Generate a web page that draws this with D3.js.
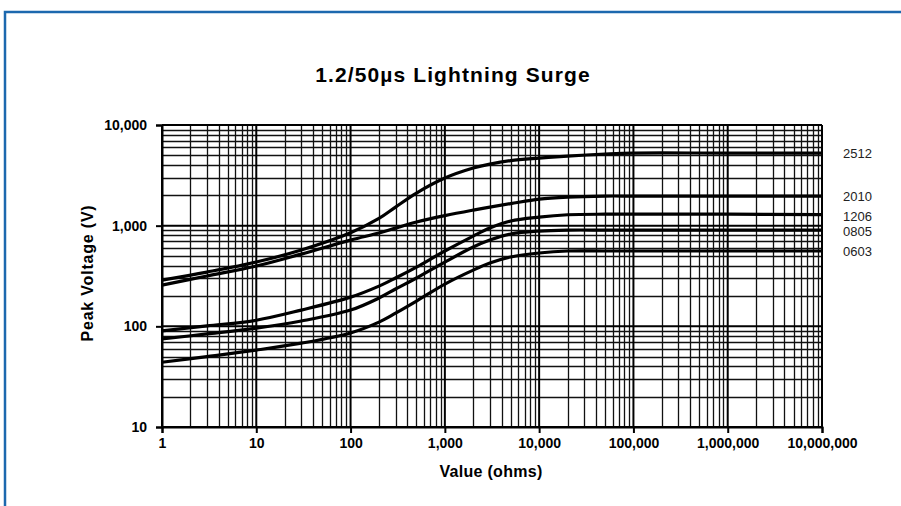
<!DOCTYPE html>
<html>
<head>
<meta charset="utf-8">
<script src="https://d3js.org/d3.v7.min.js"></script>
<style>
body { margin: 0; background: #fff; }
svg { display: block; }
.tick-label { font-family: "Liberation Sans", Arial, sans-serif; font-weight: bold; font-size: 14px; fill: #000; }
.series-label { font-family: "Liberation Sans", Arial, sans-serif; font-size: 13px; fill: #222; }
</style>
</head>
<body>
<svg width="901" height="506"></svg>
<script>
// resistance values (ohms) sampled along the curves
const resistance = [1, 3, 10, 30, 100, 200, 300, 500, 1000, 2000, 3000, 5000, 10000, 20000, 50000, 100000, 1000000, 10000000]

// peak voltage per chip size
const v2512 = [288, 346, 435, 573, 850, 1180, 1530, 2108, 2970, 3733, 4092, 4435, 4690, 4910, 5140, 5260, 5260, 5260]
const v2010 = [257, 316, 397, 522, 719, 845, 946, 1086, 1259, 1429, 1530, 1657, 1838, 1925, 1968, 1968, 1968, 1968]
const v1206 = [90, 101, 115, 145, 195, 251, 302, 388, 560, 788, 946, 1112, 1217, 1283, 1300, 1300, 1300, 1290]
const v0805 = [75, 84, 96, 113, 145, 191, 235, 302, 435, 613, 719, 826, 884, 904, 904, 904, 904, 904]
const v0603 = [44, 50, 58, 68, 86, 110, 135, 178, 263, 362, 425, 488, 535, 560, 560, 560, 560, 560]

const seriesNames = ["2512", "2010", "1206", "0805", "0603"]
const seriesValues = [v2512, v2010, v1206, v0805, v0603]

const xTicks = [1, 10, 100, 1000, 10000, 100000, 1000000, 10000000]
const yTicks = [10, 100, 1000, 10000]

const title = "1.2/50µs Lightning Surge"
const xTitle = "Value (ohms)"
const yTitle = "Peak Voltage (V)"

const svg = d3.select("svg")

// frame
svg.append("rect")
    .attr("x", 5).attr("y", 12)
    .attr("width", 1000).attr("height", 1000)
    .attr("fill", "none")
    .attr("stroke", "#1c68ae")
    .attr("stroke-width", 2.5)

const plotL = 162, plotR = 822, plotT = 125, plotB = 427

const x = d3.scaleLog().domain([1, 1e7]).range([plotL, plotR])
const y = d3.scaleLog().domain([10, 10000]).range([plotB, plotT])

const fmt = d3.format(",")

// minor grid values 2..9 in every decade
function minorValues(lo, hi) {
    let out = []
    for (let d = lo; d < hi; d *= 10) {
        for (let k = 2; k <= 9; k++) out.push(d * k)
    }
    return out
}

const grid = svg.append("g")

grid.selectAll(".vminor")
    .data(minorValues(1, 1e7))
    .enter().append("line")
    .attr("x1", d => Math.round(x(d)) + 0.5).attr("x2", d => Math.round(x(d)) + 0.5)
    .attr("y1", plotT).attr("y2", plotB)
    .attr("stroke", "#111").attr("stroke-width", 1.3)

grid.selectAll(".hminor")
    .data(minorValues(10, 10000))
    .enter().append("line")
    .attr("y1", d => Math.round(y(d)) + 0.5).attr("y2", d => Math.round(y(d)) + 0.5)
    .attr("x1", plotL).attr("x2", plotR)
    .attr("stroke", "#111").attr("stroke-width", 1.3)

grid.selectAll(".vmajor")
    .data(xTicks)
    .enter().append("line")
    .attr("x1", d => x(d)).attr("x2", d => x(d))
    .attr("y1", plotT).attr("y2", plotB)
    .attr("stroke", "#000").attr("stroke-width", 2)

grid.selectAll(".hmajor")
    .data(yTicks)
    .enter().append("line")
    .attr("y1", d => y(d)).attr("y2", d => y(d))
    .attr("x1", plotL).attr("x2", plotR)
    .attr("stroke", "#000").attr("stroke-width", 2)

// axes
const xAxis = svg.append("g")
    .attr("transform", `translate(0,${plotB})`)
    .call(d3.axisBottom(x).tickValues(xTicks).tickFormat(fmt).tickSize(6).tickPadding(5))
const yAxis = svg.append("g")
    .attr("transform", `translate(${plotL},0)`)
    .call(d3.axisLeft(y).tickValues(yTicks).tickFormat(fmt).tickSize(6).tickPadding(9))

for (let ax of [xAxis, yAxis]) {
    ax.select(".domain").attr("stroke", "#000").attr("stroke-width", 2)
    ax.selectAll(".tick line").attr("stroke", "#000").attr("stroke-width", 2)
    ax.selectAll("text").attr("class", "tick-label")
    ax.attr("font-family", null).attr("font-size", null)
}

// curves
const line = d3.line()
    .x((d, i) => x(resistance[i]))
    .y(d => y(d))
    .curve(d3.curveCatmullRom.alpha(0.5))

svg.selectAll(".curve")
    .data(seriesValues)
    .enter().append("path")
    .attr("d", line)
    .attr("fill", "none")
    .attr("stroke", "#000")
    .attr("stroke-width", 3.2)

// series labels at right end
const labelOffsets = [0, 0, 2, 1, 0]
svg.selectAll(".series-label")
    .data(seriesNames)
    .enter().append("text")
    .attr("class", "series-label")
    .attr("x", 843)
    .attr("y", (d, i) => y(seriesValues[i][seriesValues[i].length - 1]) + labelOffsets[i])
    .attr("dy", "0.35em")
    .text(d => d)

// titles
svg.append("text")
    .attr("x", 453).attr("y", 82)
    .attr("text-anchor", "middle")
    .attr("font-family", "Liberation Sans, Arial, sans-serif")
    .attr("font-weight", "bold")
    .attr("font-size", 21)
    .attr("letter-spacing", 1.1)
    .text(title)

svg.append("text")
    .attr("x", 491).attr("y", 477)
    .attr("text-anchor", "middle")
    .attr("font-family", "Liberation Sans, Arial, sans-serif")
    .attr("font-weight", "bold")
    .attr("font-size", 16)
    .attr("letter-spacing", 0.3)
    .text(xTitle)

svg.append("text")
    .attr("transform", "translate(93,273) rotate(-90)")
    .attr("text-anchor", "middle")
    .attr("font-family", "Liberation Sans, Arial, sans-serif")
    .attr("font-weight", "bold")
    .attr("font-size", 16)
    .attr("letter-spacing", 0.8)
    .text(yTitle)
</script>
</body>
</html>
